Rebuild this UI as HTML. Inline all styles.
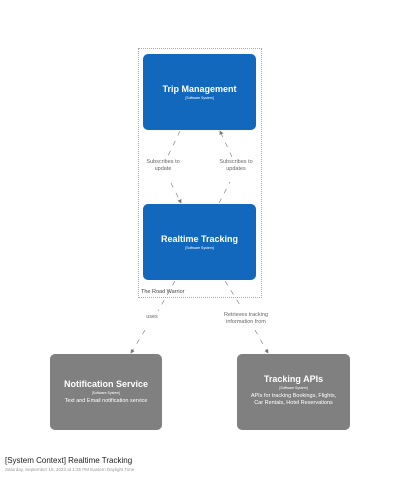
<!DOCTYPE html>
<html><head><style>
body{margin:0;width:400px;height:480px;background:#fff;position:relative;font-family:"Liberation Sans",sans-serif;overflow:hidden}
.b{position:absolute;border-radius:5px;color:#fff;text-align:center;display:flex;flex-direction:column;justify-content:center;align-items:center}
.t{font-weight:bold;font-size:9px}
.s{font-size:3.5px;margin-top:2px}
.d{font-size:5.5px;margin-top:3px;line-height:7px}
.l{position:absolute;font-size:5.5px;color:#666;text-align:center;line-height:7px}
</style></head><body>
<div style="position:absolute;left:138px;top:48px;width:124px;height:250px;border:1px dotted #aaa;box-sizing:border-box"></div>
<div class="l" style="left:141px;top:289px;color:#444">The Road Warrior</div>
<div class="b" style="left:143px;top:54px;width:113px;height:76px;background:#1168bd"><div class="t">Trip Management</div><div class="s">[Software System]</div></div>
<div class="b" style="left:143px;top:204px;width:113px;height:76px;background:#1168bd"><div class="t">Realtime Tracking</div><div class="s">[Software System]</div></div>
<div class="b" style="left:50px;top:354px;width:112px;height:76px;background:#808080"><div class="t">Notification Service</div><div class="s">[Software System]</div><div class="d">Text and Email notification service</div></div>
<div class="b" style="left:237px;top:354px;width:113px;height:76px;background:#808080;justify-content:flex-start;padding-top:20px;box-sizing:border-box"><div class="t">Tracking APIs</div><div class="s">[Software System]</div><div class="d">APIs for tracking Bookings, Flights,<br>Car Rentals, Hotel Reservations</div></div>
<svg width="400" height="480" style="position:absolute;left:0;top:0">
<defs><marker id="a" markerWidth="6" markerHeight="6" refX="5" refY="3" orient="auto"><path d="M0,0L6,3L0,6z" fill="#777"/></marker></defs>
<g stroke="#888" stroke-width="0.7" stroke-dasharray="5,6" fill="none">
<line x1="180" y1="131" x2="167" y2="158"/><line x1="171" y1="183" x2="181" y2="203" marker-end="url(#a)"/>
<line x1="219" y1="203" x2="230" y2="182"/><line x1="232" y1="157" x2="220" y2="131" marker-end="url(#a)"/>
<line x1="175" y1="281" x2="158" y2="311"/><line x1="145" y1="330" x2="131" y2="353" marker-end="url(#a)"/>
<line x1="225" y1="281" x2="240" y2="305"/><line x1="255" y1="330" x2="268" y2="353" marker-end="url(#a)"/>
</g></svg>
<div class="l" style="left:133px;top:159px;width:60px">Subscribes to<br>update</div>
<div class="l" style="left:206px;top:159px;width:60px">Subscribes to<br>updates</div>
<div class="l" style="left:132px;top:314px;width:40px">uses</div>
<div class="l" style="left:211px;top:312px;width:70px">Retrieves tracking<br>information from</div>
<div style="position:absolute;left:5px;top:456px;font-size:8px;color:#222">[System Context] Realtime Tracking</div>
<div style="position:absolute;left:5px;top:467px;font-size:4.5px;color:#999">Saturday, September 16, 2023 at 1:35 PM Eastern Daylight Time</div>
</body></html>
